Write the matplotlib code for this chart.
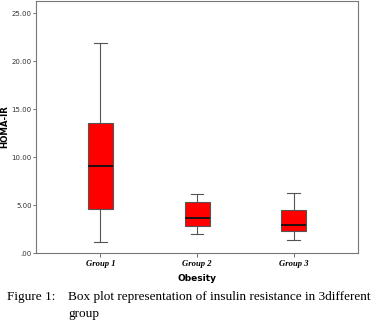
'''Box plot of HOMA-IR by obesity group'''
import matplotlib
matplotlib.use('Agg')
import matplotlib.pyplot as plt

groups = ['Group 1', 'Group 2', 'Group 3']
whislo = [1.2, 1.95, 1.35]
q1 = [4.6, 2.8, 2.3]
med = [9.1, 3.65, 2.95]
q3 = [13.6, 5.3, 4.5]
whishi = [21.9, 6.2, 6.25]
yticks = [0, 5, 10, 15, 20, 25]
ytick_labels = ['.00', '5.00', '10.00', '15.00', '20.00', '25.00']

fig = plt.figure(figsize=(3.75, 3.22), dpi=100)
ax = fig.add_axes([0.096, 0.214, 0.859, 0.783])

stats = []
for i in range(len(groups)):
    stats.append({'whislo': whislo[i], 'q1': q1[i], 'med': med[i],
                  'q3': q3[i], 'whishi': whishi[i], 'fliers': []})

ax.bxp(stats, positions=[1, 2, 3], widths=0.26, patch_artist=True,
       showfliers=False,
       boxprops=dict(facecolor='#ff0000', edgecolor='#555555', linewidth=0.8),
       medianprops=dict(color='#111111', linewidth=1.3),
       whiskerprops=dict(color='#555555', linewidth=0.8),
       capprops=dict(color='#555555', linewidth=0.8), capwidths=0.13)

ax.set_xlim(0.333, 3.667)
ax.set_ylim(0, 26.3)
ax.set_yticks(yticks)
ax.set_yticklabels(ytick_labels, fontsize=5, color='#333333')
ax.set_xticks([1, 2, 3])
ax.set_xticklabels(groups, fontsize=6.2, fontstyle='italic', fontweight='bold',
                   family='Liberation Serif')
ax.tick_params(axis='y', length=2.5, width=0.6, color='#555555', pad=0.5)
ax.tick_params(axis='x', length=3, width=0.6, color='#555555', pad=2)
for s in ax.spines.values():
    s.set_color('#777777')
    s.set_linewidth(0.8)

ax.set_ylabel('HOMA-IR', fontsize=6.2, fontweight='bold', labelpad=2)
ax.set_xlabel('Obesity', fontsize=6.5, fontweight='bold', labelpad=4)

fig.text(7 / 375, 1 - 300 / 322, 'Figure 1:', fontsize=9.5,
         family='Liberation Serif', va='baseline')
fig.text(68 / 375, 1 - 300 / 322,
         'Box plot representation of insulin resistance in 3different',
         fontsize=9.5, family='Liberation Serif', va='baseline')
fig.text(68 / 375, 1 - 317 / 322, 'group', fontsize=9.5,
         family='Liberation Serif', va='baseline')

fig.savefig('out.png', dpi=100)
